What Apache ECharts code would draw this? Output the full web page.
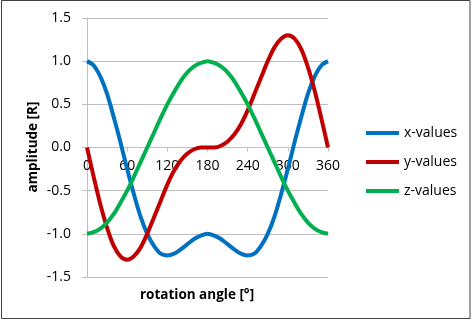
<!DOCTYPE html>
<html>
<head>
<meta charset="utf-8">
<script src="https://cdn.jsdelivr.net/npm/echarts@6/dist/echarts.min.js"></script>
<style>
html,body{margin:0;padding:0;background:#fff;}
#chart{width:472px;height:320px;}
</style>
</head>
<body>
<div id="chart"></div>
<script>
var angles = [0,10,20,30,40,50,60,70,80,90,100,110,120,130,140,150,160,170,180,190,200,210,220,230,240,250,260,270,280,290,300,310,320,330,340,350,360];
var xValues = [1.00,0.95,0.82,0.62,0.35,0.06,-0.25,-0.54,-0.80,-1.00,-1.14,-1.23,-1.25,-1.23,-1.18,-1.12,-1.06,-1.02,-1.00,-1.02,-1.06,-1.12,-1.18,-1.23,-1.25,-1.23,-1.14,-1.00,-0.80,-0.54,-0.25,0.06,0.35,0.62,0.82,0.95,1.00];
var yValues = [0.00,-0.34,-0.66,-0.93,-1.14,-1.26,-1.30,-1.26,-1.16,-1.00,-0.81,-0.62,-0.43,-0.27,-0.15,-0.07,-0.02,0.00,0.00,0.00,0.02,0.07,0.15,0.27,0.43,0.62,0.81,1.00,1.16,1.26,1.30,1.26,1.14,0.93,0.66,0.34,0.00];
var zValues = [-1.00,-0.98,-0.94,-0.87,-0.77,-0.64,-0.50,-0.34,-0.17,0.00,0.17,0.34,0.50,0.64,0.77,0.87,0.94,0.98,1.00,0.98,0.94,0.87,0.77,0.64,0.50,0.34,0.17,0.00,-0.17,-0.34,-0.50,-0.64,-0.77,-0.87,-0.94,-0.98,-1.00];
var seriesNames = ['x-values','y-values','z-values'];
var seriesColors = ['#0070C0','#C00000','#00B050'];
var xAxisName = 'rotation angle [°]';
var yAxisName = 'amplitude [R]';

function zip(a, v){ return a.map(function(x,i){ return [x, v[i]]; }); }
var FONT = '"Open Sans", "Liberation Sans", sans-serif';
var GRID = {left: 87, right: 144, top: 18, bottom: 43};
var PLOT_H = 320 - GRID.top - GRID.bottom;
var Y_MIN = -1.5, Y_MAX = 1.5;
var chart = echarts.init(document.getElementById('chart'), null, {renderer:'canvas'});
var allValues = [xValues, yValues, zValues];
chart.setOption({
  animation: false,
  backgroundColor: '#ffffff',
  grid: GRID,
  legend: {
    orient: 'vertical', left: 361, top: 120, icon: 'rect',
    itemWidth: 33, itemHeight: 4, itemGap: 13,
    textStyle: {fontFamily: FONT, fontSize: 14, color: '#000', lineHeight: 16},
    data: seriesNames
  },
  xAxis: {
    type: 'value', min: 0, max: 360, interval: 60,
    offset: -PLOT_H * (0 - Y_MIN) / (Y_MAX - Y_MIN),
    axisLine: {onZero: false, lineStyle: {color: '#bfbfbf', width: 1}},
    axisTick: {show: true, length: 4, lineStyle: {color: '#bfbfbf'}},
    splitLine: {show: false},
    axisLabel: {margin: 12, fontFamily: FONT, fontSize: 14, color: '#000'}
  },
  yAxis: {
    type: 'value', min: Y_MIN, max: Y_MAX, interval: 0.5,
    axisLine: {show: true, onZero: false, lineStyle: {color: '#bfbfbf', width: 1}},
    axisTick: {show: true, length: 5, lineStyle: {color: '#bfbfbf'}},
    splitLine: {show: true, lineStyle: {color: '#bfbfbf', width: 1}},
    axisLabel: {margin: 16, fontFamily: FONT, fontSize: 14, color: '#000',
      formatter: function(v){ return Math.abs(v) < 1e-9 ? '0.0' : v.toFixed(1); }}
  },
  graphic: [
    {type: 'rect', shape: {x: 1.5, y: 0.5, width: 468.5, height: 318}, style: {fill: 'none', stroke: '#404040', lineWidth: 1}, z: 100},
    {type: 'text', style: {text: xAxisName, fontFamily: FONT, fontSize: 13.5, fontWeight: 'bold', fill: '#000', textAlign: 'center', textVerticalAlign: 'middle'}, x: 197, y: 295},
    {type: 'text', style: {text: yAxisName, fontFamily: FONT, fontSize: 13.5, fontWeight: 'bold', fill: '#000', textAlign: 'center', textVerticalAlign: 'middle'}, x: 33, y: 147, rotation: Math.PI/2}
  ],
  series: seriesNames.map(function(n, i){
    return {
      name: n, type: 'line', data: zip(angles, allValues[i]),
      smooth: 0.3, symbol: 'none', color: seriesColors[i],
      lineStyle: {width: 4, color: seriesColors[i]}
    };
  })
});
</script>
</body>
</html>
